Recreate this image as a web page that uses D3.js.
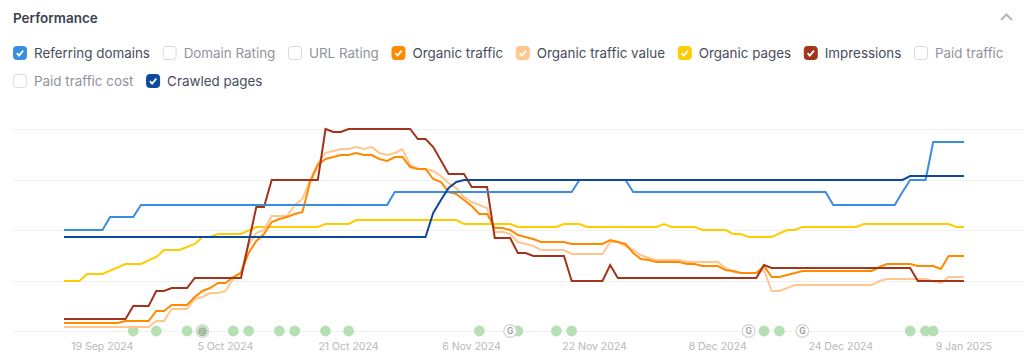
<!DOCTYPE html>
<html>
<head>
<meta charset="utf-8">
<script src="https://cdn.jsdelivr.net/npm/d3@7"></script>
<style>
  html, body { margin: 0; padding: 0; background: #fff; }
  svg { display: block; }
  text { font-family: Inter, "Noto Sans", sans-serif; }
  .axis text { fill: #b8b8b8; font-size: 10.5px; }
  .legend-label { font-size: 13.4px; }
</style>
</head>
<body>
<div id="chart"></div>
<script>
// [day since startDate, value]
const startDate = new Date(Date.UTC(2024, 8, 14))
const endDate = new Date(Date.UTC(2025, 0, 9))
const tickDays = [5, 21, 37, 53, 69, 85, 101, 117]

const referringDomains = [[0,101],[5,101],[6,114],[9,114],[10,126],[42,126],[43,139],[66,139],[67,151],[73,151],[74,139],[99,139],[100,126],[108,126],[109,139],[110,151],[112,151],[113,189],[117,189]]
const crawledPages = [[0,94],[47,94],[48,118],[49,131],[50,143],[51,149],[52,151],[109,151],[110,155],[117,155]]
const organicPages = [[0,50],[2,50],[3,57],[5,57],[8,67],[10,67],[12,74],[13,81],[15,81],[17,87],[18,94],[19,94],[20,97],[23,97],[25,104],[33,104],[34,107],[37,107],[38,111],[51,111],[52,107],[58,107],[59,104],[64,104],[65,107],[67,107],[68,104],[77,104],[78,107],[79,104],[82,104],[83,101],[86,101],[87,97],[88,97],[89,94],[92,94],[94,101],[95,101],[96,104],[103,104],[104,107],[115,107],[116,104],[117,104]]
const impressions = [[0,12],[8,12],[9,25],[11,25],[12,40],[13,40],[14,43],[16,43],[17,53],[23,53],[25,124],[26,124],[27,151],[33,151],[34,202],[35,199],[36,199],[37,202],[45,202],[46,192],[47,192],[48,184],[50,157],[52,157],[53,144],[55,144],[56,93],[58,93],[59,78],[60,78],[61,75],[65,75],[66,50],[70,50],[71,66],[72,53],[90,53],[91,66],[92,63],[110,63],[111,50],[117,50]]
const organicTraffic = [[0,8],[7,8],[8,10],[11,10],[12,20],[13,20],[14,26],[16,26],[17,34],[18,40],[19,43],[20,48],[21,48],[22,54],[23,58],[24,78],[25,90],[26,97],[27,109],[28,112],[29,114],[30,117],[31,119],[32,149],[33,166],[34,172],[35,174],[36,176],[37,176],[38,178],[39,176],[40,176],[41,172],[42,170],[43,174],[44,174],[45,164],[46,162],[47,162],[48,152],[49,149],[50,139],[51,137],[52,131],[53,125],[54,117],[55,117],[56,103],[57,103],[58,101],[59,96],[60,94],[61,92],[62,89],[65,89],[66,87],[70,87],[71,91],[72,89],[73,87],[74,78],[75,72],[76,71],[77,69],[80,69],[81,67],[82,67],[83,65],[85,65],[86,61],[87,60],[88,58],[90,58],[91,65],[92,54],[93,54],[94,56],[95,58],[96,60],[105,60],[106,64],[107,67],[110,67],[111,65],[113,65],[114,62],[115,75],[117,75]]
const organicTrafficValue = [[0,4],[11,4],[12,10],[13,10],[14,22],[16,22],[17,32],[18,34],[19,38],[20,38],[21,40],[22,52],[23,59],[24,86],[25,98],[26,101],[27,115],[29,115],[30,126],[31,132],[32,151],[33,168],[34,178],[35,180],[36,182],[37,182],[38,184],[39,182],[40,184],[41,178],[42,176],[43,178],[44,182],[45,166],[46,162],[47,162],[48,160],[49,155],[50,148],[51,143],[52,134],[53,129],[54,126],[55,123],[56,99],[57,99],[58,97],[59,89],[60,87],[61,85],[62,81],[65,81],[66,77],[70,77],[71,89],[72,89],[73,85],[74,81],[75,76],[76,73],[77,71],[80,71],[81,69],[85,69],[86,63],[87,59],[88,58],[90,58],[91,61],[92,40],[93,40],[94,43],[95,46],[105,46],[106,50],[107,52],[112,52],[113,50],[114,48],[115,54],[117,54]]

const legendNames = ['Referring domains', 'Domain Rating', 'URL Rating', 'Organic traffic', 'Organic traffic value', 'Organic pages', 'Impressions', 'Paid traffic', 'Paid traffic cost', 'Crawled pages']
const legendColors = ['#3b8ddd', null, null, '#ff8a00', '#ffc68f', '#ffcc00', '#a1341b', null, null, '#0d4a9e']

// drawing order, back to front
const seriesList = [
    { values: organicPages, color: '#ffcc00' },
    { values: organicTrafficValue, color: '#ffc68f' },
    { values: organicTraffic, color: '#ff8a00' },
    { values: impressions, color: '#a1341b' },
    { values: referringDomains, color: '#3b8ddd' },
    { values: crawledPages, color: '#0d4a9e' }
]

const eventDays = [9, 12, 16, 18, 22, 24, 28, 30, 34, 37, 54, 59, 64, 66, 91, 93, 110, 112, 113]
const markerDays = [18, 58, 89, 96]
const markerLabels = ['@', 'G', 'G', 'G']

const width = 1024
const height = 359
const margin = { top: 129, left: 64, bottom: 28, right: 60 }

const toDate = d => new Date(startDate.getTime() + d * 864e5)

const svg = d3.select('#chart').append('svg')
    .attr('width', width)
    .attr('height', height)

const xScale = d3.scaleUtc()
    .domain([startDate, endDate])
    .range([margin.left, width - margin.right])
const yScale = d3.scaleLinear()
    .domain([0, 202])
    .range([height - margin.bottom, margin.top])

// title + chevron
svg.append('text')
    .attr('x', 13)
    .attr('y', 23)
    .attr('font-size', 13.5)
    .attr('font-weight', 600)
    .attr('fill', '#3c4250')
    .text('Performance')

svg.append('path')
    .attr('d', 'M1001 20 L1006.5 14.5 L1012 20')
    .attr('fill', 'none')
    .attr('stroke', '#b5b5b5')
    .attr('stroke-width', 2)

// legend, wraps like the flex row in the page
let legendX = 13
let legendY = 53
legendNames.forEach((name, i) => {
    const color = legendColors[i]
    const g = svg.append('g')
    const label = g.append('text')
        .attr('class', 'legend-label')
        .attr('x', 21)
        .attr('dy', '.35em')
        .attr('fill', color ? '#464d5c' : '#8f939b')
        .text(name)
    const w = 21 + label.node().getComputedTextLength()
    if (legendX + w > width - 13) {
        legendX = 13
        legendY += 28
    }
    g.attr('transform', `translate(${legendX}, ${legendY})`)
    g.append('rect')
        .attr('x', 0.5)
        .attr('y', -6.5)
        .attr('width', 13)
        .attr('height', 13)
        .attr('rx', 3)
        .attr('fill', color || '#fff')
        .attr('stroke', color || '#d9d9d9')
    if (color) {
        g.append('path')
            .attr('d', 'M3.8 0.2 L6 2.6 L10.2 -2.4')
            .attr('fill', 'none')
            .attr('stroke', '#fff')
            .attr('stroke-width', 1.8)
    }
    legendX += w + 12.7
})

// grid
const gridValues = d3.range(0, 5).map(i => i * 50.5)
svg.append('g').selectAll('line')
    .data(gridValues)
    .join('line')
    .attr('x1', 13)
    .attr('x2', width)
    .attr('y1', d => Math.round(yScale(d)) + 0.5)
    .attr('y2', d => Math.round(yScale(d)) + 0.5)
    .attr('stroke', '#f0f0f0')

// x axis
const xAxis = svg.append('g')
    .attr('class', 'axis')
    .attr('transform', `translate(0, ${height - 13})`)
    .call(
        d3.axisBottom(xScale)
            .tickValues(tickDays.map(toDate))
            .tickFormat(d3.utcFormat('%-d %b %Y'))
            .tickSize(0)
            .tickPadding(0)
    )
xAxis.select('.domain').remove()
xAxis.selectAll('text').attr('dy', '.35em').attr('y', 0).attr('x', -0.7)

// event dots
svg.append('g').selectAll('circle')
    .data(eventDays)
    .join('circle')
    .attr('cx', d => xScale(toDate(d)))
    .attr('cy', yScale(0))
    .attr('r', 5.4)
    .attr('fill', '#b7dfb4')

// lines
const line = d3.line()
    .x(d => xScale(toDate(d[0])))
    .y(d => yScale(d[1]))

svg.append('g').selectAll('path')
    .data(seriesList)
    .join('path')
    .attr('d', d => line(d.values))
    .attr('fill', 'none')
    .attr('stroke', d => d.color)
    .attr('stroke-width', 2)

// annotation markers
const markers = svg.append('g').selectAll('g')
    .data(markerDays)
    .join('g')
    .attr('transform', d => `translate(${xScale(toDate(d))}, ${yScale(0)})`)

markers.append('circle')
    .attr('r', 6.3)
    .attr('fill', '#fff')
    .attr('fill-opacity', (d, i) => i === 0 ? 0 : 1)
    .attr('stroke', '#d8d8d8')
    .attr('stroke-width', 1.4)

markers.append('text')
    .attr('text-anchor', 'middle')
    .attr('dy', '.35em')
    .attr('font-size', 8.5)
    .attr('font-weight', 600)
    .attr('fill', '#9a9a9a')
    .text((d, i) => markerLabels[i])
</script>
</body>
</html>
